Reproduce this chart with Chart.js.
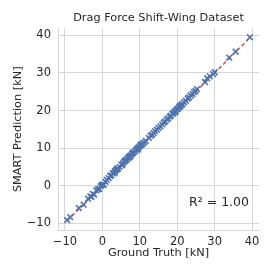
<!DOCTYPE html>
<html>
<head>
<meta charset="utf-8">
<script src="https://cdn.jsdelivr.net/npm/chart.js@4"></script>
<style>
  html, body { margin: 0; padding: 0; background: #fff; }
</style>
</head>
<body>
<canvas id="chart_parity" width="272" height="272"></canvas>
<script>
const groundTruth = [
  -9.4, -8.6, -6.3, -5.0, -3.8, -3.2, -2.9, -2.5, -2.2, -1.6, -1.2, -0.8, -0.5, -0.2,
  0.1, 0.4, 0.8, 1.2, 1.7, 2.1, 2.4, 2.8, 3.0, 3.3, 3.6, 3.9, 4.2, 4.6, 5.1, 5.5, 5.8,
  6.2, 6.5, 6.8, 7.1, 7.4, 7.7, 8.0, 8.3, 8.7, 9.0, 9.3, 9.6, 9.9, 10.2, 10.5, 10.8,
  11.2, 11.6, 12.4, 12.9, 13.3, 13.7, 14.1, 14.6, 15.0, 15.5, 16.0, 16.4, 16.8, 17.2,
  17.6, 18.0, 18.3, 18.7, 19.0, 19.3, 19.6, 19.9, 20.2, 20.5, 20.8, 21.1, 21.4, 21.8,
  22.3, 22.8, 23.2, 23.6, 24.1, 24.5, 24.9, 25.3, 27.4, 28.0, 28.7, 29.6, 30.0, 33.9,
  35.6, 39.4, 3.4, 4.0, 5.3, 6.0, 7.3, 8.1, 9.5, 10.3, 19.5, 20.7
];
const prediction = [
  -9.2, -8.4, -6.0, -5.1, -3.5, -2.9, -3.0, -2.2, -2.4, -1.3, -1.0, -0.9, -0.2, 0.1,
  0.3, 0.2, 1.0, 1.5, 2.0, 2.6, 2.7, 3.3, 3.2, 3.8, 4.1, 4.3, 4.5, 5.0, 5.6, 5.9, 6.3,
  6.7, 6.9, 7.3, 7.6, 7.9, 8.1, 8.5, 8.8, 9.1, 9.5, 9.8, 10.1, 10.4, 10.7, 10.9, 11.2,
  11.5, 11.9, 12.7, 13.3, 13.6, 14.0, 14.5, 14.9, 15.4, 15.8, 16.3, 16.8, 17.1, 17.6,
  17.9, 18.4, 18.6, 19.1, 19.3, 19.7, 19.9, 20.3, 20.5, 20.9, 21.1, 21.5, 21.7, 22.2,
  22.6, 23.2, 23.5, 24.0, 24.4, 24.9, 25.2, 25.7, 27.6, 28.6, 29.1, 29.7, 30.2, 34.1,
  35.7, 39.5, 3.5, 4.6, 5.4, 6.6, 7.5, 8.7, 9.6, 10.9, 19.6, 21.2
];
const identityLine = [-9.4, 39.4];
const axisRange = [-11.84, 41.84];
const tickStep = 10;
const r2Label = "R\u00b2 = 1.00";

const textColor = "#262626";
const gridColor = "#d6d6d6";

const r2Plugin = {
  id: "r2Text",
  afterDatasetsDraw(chart) {
    const { ctx, chartArea } = chart;
    ctx.save();
    ctx.font = "12.5px 'DejaVu Sans'";
    ctx.fillStyle = textColor;
    ctx.textAlign = "right";
    ctx.textBaseline = "middle";
    ctx.fillText(r2Label, chartArea.right - 10, chartArea.bottom - 27);
    ctx.restore();
  },
};

const minusSign = (v) => String(v).replace("-", "\u2212");

new Chart(document.getElementById("chart_parity"), {
  type: "scatter",
  data: {
    datasets: [
      {
        label: "points",
        data: groundTruth.map((x, i) => ({ x: x, y: prediction[i] })),
        pointStyle: "crossRot",
        pointRadius: 4,
        borderColor: "#4c72b0",
        backgroundColor: "#4c72b0",
        pointBorderWidth: 1.6,
      },
      {
        label: "ideal",
        type: "line",
        data: identityLine.map((v) => ({ x: v, y: v })),
        borderColor: "#c44e52",
        borderWidth: 1.4,
        borderDash: [4, 2.5],
        pointRadius: 0,
        fill: false,
      },
    ],
  },
  options: {
    responsive: false,
    animation: false,
    devicePixelRatio: 1,
    layout: { padding: { left: 0, right: 13, top: 0, bottom: 0 } },
    plugins: {
      legend: { display: false },
      tooltip: { enabled: false },
      title: {
        display: true,
        fullSize: false,
        text: "Drag Force Shift-Wing Dataset",
        color: textColor,
        font: { family: "'DejaVu Sans'", size: 11.3, weight: "normal" },
        padding: { top: 11, bottom: 4 },
      },
    },
    scales: {
      x: {
        type: "linear",
        min: axisRange[0],
        max: axisRange[1],
        afterFit: (s) => { s.height = 42; },
        border: { color: gridColor, width: 1 },
        grid: { color: gridColor, lineWidth: 1, tickLength: 0 },
        ticks: {
          stepSize: tickStep,
          includeBounds: false,
          color: textColor,
          padding: 5,
          maxRotation: 0,
          font: { family: "'DejaVu Sans'", size: 11.5 },
          callback: minusSign,
        },
        title: {
          display: true,
          text: "Ground Truth [kN]",
          color: textColor,
          font: { family: "'DejaVu Sans'", size: 11.3 },
          padding: { top: 2, bottom: 12 },
        },
      },
      y: {
        type: "linear",
        min: axisRange[0],
        max: axisRange[1],
        afterFit: (s) => { s.width = 58; },
        border: { color: gridColor, width: 1 },
        grid: { color: gridColor, lineWidth: 1, tickLength: 0 },
        ticks: {
          stepSize: tickStep,
          includeBounds: false,
          color: textColor,
          padding: 7,
          font: { family: "'DejaVu Sans'", size: 11.5 },
          callback: minusSign,
        },
        title: {
          display: true,
          text: "SMART Prediction [kN]",
          color: textColor,
          font: { family: "'DejaVu Sans'", size: 11.3 },
          padding: { top: 11, bottom: 2 },
        },
      },
    },
  },
  plugins: [r2Plugin],
});
</script>
</body>
</html>
